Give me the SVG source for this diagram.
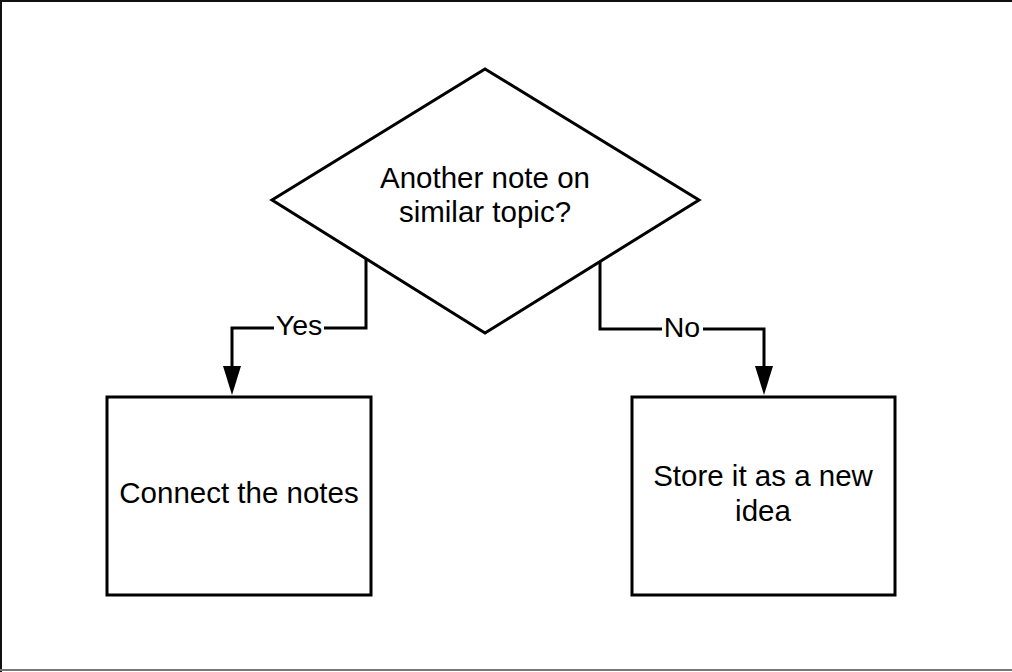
<svg xmlns="http://www.w3.org/2000/svg" width="1012" height="672" viewBox="0 0 1012 672">
  <style>
    .shape { fill: #ffffff; stroke: #000000; stroke-width: 3; }
    .conn { fill: none; stroke: #000000; stroke-width: 3; }
    .txt { font-family: "Liberation Sans", Arial, sans-serif; font-size: 29.5px; fill: #000000; text-anchor: middle; }
    .lbl { font-family: "Liberation Sans", Arial, sans-serif; font-size: 28.5px; fill: #000000; text-anchor: middle; }
  </style>
  <rect x="0" y="0" width="1012" height="672" fill="#ffffff"/>
  <g id="frame">
    <line x1="0" y1="1" x2="1012" y2="1" stroke="#111111" stroke-width="2"/>
    <line x1="1" y1="0" x2="1" y2="672" stroke="#111111" stroke-width="2"/>
    <line x1="0" y1="670" x2="1012" y2="670" stroke="#777777" stroke-width="2"/>
  </g>
  <g id="connectors">
    <path class="conn" d="M366,258.7 V328 H232 V366"/>
    <polygon points="223,366 241,366 232,395" fill="#000000"/>
    <path class="conn" d="M600,261.5 V329 H764 V366"/>
    <polygon points="755,366 773,366 764,395" fill="#000000"/>
    <rect x="274" y="312" width="50" height="30" fill="#ffffff"/>
    <text class="lbl" x="299" y="335">Yes</text>
    <rect x="662" y="312" width="41" height="30" fill="#ffffff"/>
    <text class="lbl" x="682" y="337">No</text>
  </g>
  <g id="decision">
    <polygon class="shape" points="485,69 699,200 485,333 272,200"/>
    <text class="txt" x="485" y="188">Another note on</text>
    <text class="txt" x="485" y="222">similar topic?</text>
  </g>
  <g id="connect">
    <rect class="shape" x="107" y="397" width="264" height="198"/>
    <text class="txt" x="239" y="503">Connect the notes</text>
  </g>
  <g id="store">
    <rect class="shape" x="632" y="397" width="263" height="198"/>
    <text class="txt" x="763" y="486">Store it as a new</text>
    <text class="txt" x="763" y="521">idea</text>
  </g>
</svg>
